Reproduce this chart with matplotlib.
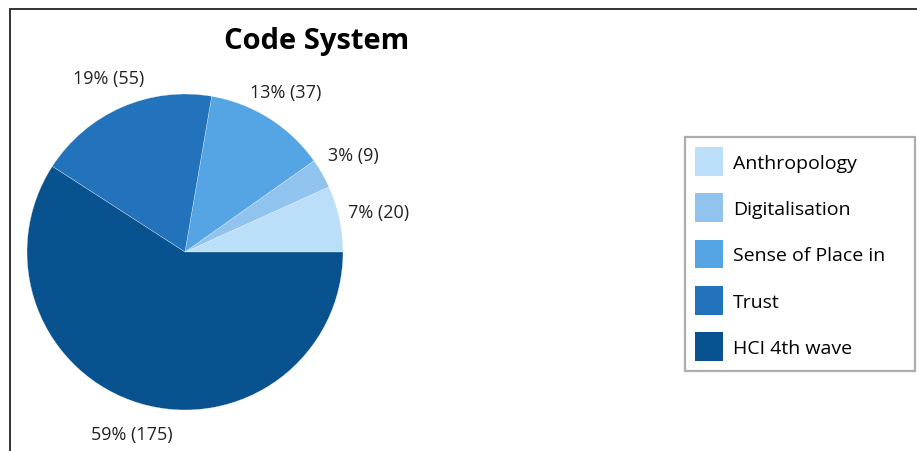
import matplotlib.pyplot as plt
import matplotlib.patches as mpatches
import numpy as np

# Data
categories = ['Anthropology', 'Digitalisation', 'Sense of Place in', 'Trust', 'HCI 4th wave']
counts = [20, 9, 37, 55, 175]
colors = ['#BBDEF9', '#90C3EE', '#55A4E3', '#2273BB', '#07528F']

plt.rcParams['font.family'] = ['Open Sans', 'DejaVu Sans']

total = sum(counts)
labels = [f'{int(c / total * 100 + 0.5)}% ({c})' for c in counts]

fig = plt.figure(figsize=(9.17, 4.52), dpi=100)

# Outer frame (only left and top edges visible in the reference)
frame = mpatches.Rectangle((10 / 917, -0.5), 2, 1.5 - 10 / 452, transform=fig.transFigure,
                           fill=False, edgecolor='#333333', linewidth=1.4)
fig.patches.append(frame)

ax = fig.add_axes([27 / 917, 41 / 452, 316 / 917, 316 / 452])
wedges, texts = ax.pie(counts, labels=labels, colors=colors, startangle=0,
                       counterclock=True, radius=1, labeldistance=1.2,
                       wedgeprops=dict(edgecolor='white', linewidth=0.2),
                       textprops=dict(fontsize=13, color='#222222'))
for t in texts:
    t.set_ha('center')
    t.set_va('center')

# nudge the small labels as in the reference
ang = np.deg2rad(30)
texts[1].set_position((1.23 * np.cos(ang), 1.23 * np.sin(ang)))
ang = np.deg2rad(11.7)
texts[0].set_position((1.25 * np.cos(ang), 1.25 * np.sin(ang)))

ax.set_xlim(-1, 1)
ax.set_ylim(-1, 1)
ax.set_aspect('equal')
ax.axis('off')

fig.text(317 / 917, 1 - 42 / 452, 'Code System', ha='center', va='center',
         fontsize=21, fontweight='bold')

leg = fig.legend(wedges, categories, loc='upper left', mode='expand',
                 bbox_to_anchor=(685 / 917, 1 - 369 / 452, 230 / 917, 231 / 452),
                 fontsize=14, frameon=True, fancybox=False,
                 edgecolor='#999999', handlelength=1.45, handleheight=1.9,
                 labelspacing=0.9, borderpad=0.52, handletextpad=0.5,
                 borderaxespad=0)
leg.get_frame().set_linewidth(1.6)
for h in leg.legend_handles:
    h.set_edgecolor('none')

fig.savefig('out.png', dpi=100)
